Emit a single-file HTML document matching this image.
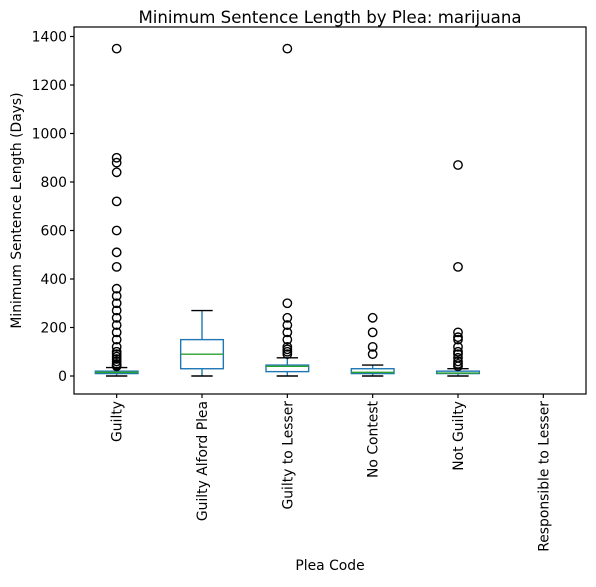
<!DOCTYPE html>
<html><head><meta charset="utf-8"><style>body{margin:0;background:#fff}svg text{font-family:"DejaVu Sans","Liberation Sans",sans-serif;fill:#000}</style></head>
<body>
<svg id="chart" width="596" height="582"></svg>
<script>
const categories=["Guilty","Guilty Alford Plea","Guilty to Lesser","No Contest","Not Guilty","Responsible to Lesser"];
const lowWhisker=[0,0,0,0,0,null];
const q1=[10,30,18,10,10,null];
const medians=[15,90,40,15,12,null];
const q3=[20,150,45,30,20,null];
const highWhisker=[35,270,75,45,30,null];
const outliers=[
 [1350,900,880,840,720,600,510,450,360,330,300,270,240,210,180,150,120,100,90,80,70,60,50,45,40],
 [],
 [1350,300,240,210,180,150,120,110,100,90],
 [240,180,120,90],
 [870,450,180,160,150,120,100,90,75,60,50,40],
 []
];
const yTicks=[0,200,400,600,800,1000,1200,1400];
const NS="http://www.w3.org/2000/svg",svg=document.getElementById("chart");
const L=74,R=586,T=27,B=394;
const x=i=>L+(i+0.5)*(R-L)/categories.length;
const y=v=>376-v*0.2425;
function mk(t,a,p){const e=document.createElementNS(NS,t);for(const k in a)e.setAttribute(k,a[k]);(p||svg).appendChild(e);return e;}
const hw=(R-L)/categories.length*0.25;
const SW=1.4;
categories.forEach((c,i)=>{
 const g=mk("g",{});
 
 
 const cx=x(i);
 if(q1[i]!==null){
  mk("line",{x1:cx,x2:cx,y1:y(q1[i]),y2:y(lowWhisker[i]),stroke:"#1f77b4","stroke-width":SW},g);
  mk("line",{x1:cx,x2:cx,y1:y(q3[i]),y2:y(highWhisker[i]),stroke:"#1f77b4","stroke-width":SW},g);
  mk("line",{x1:cx-hw/2,x2:cx+hw/2,y1:y(lowWhisker[i]),y2:y(lowWhisker[i]),stroke:"#000","stroke-width":SW},g);
  mk("line",{x1:cx-hw/2,x2:cx+hw/2,y1:y(highWhisker[i]),y2:y(highWhisker[i]),stroke:"#000","stroke-width":SW},g);
  mk("rect",{x:cx-hw,y:y(q3[i]),width:2*hw,height:Math.max(1,y(q1[i])-y(q3[i])),fill:"none",stroke:"#1f77b4","stroke-width":SW},g);
  mk("line",{x1:cx-hw,x2:cx+hw,y1:y(medians[i]),y2:y(medians[i]),stroke:"#2ca02c","stroke-width":SW},g);
 }
 outliers[i].forEach(v=>{const o=mk("circle",{cx:cx,cy:y(v),r:4.2,fill:"none",stroke:"#000","stroke-width":1.4},g);
  
  });
 mk("line",{x1:cx,x2:cx,y1:B,y2:B+4,stroke:"#000","stroke-width":1.2});
 const t=mk("text",{x:0,y:0,"font-size":13.9,"text-anchor":"end",transform:`translate(${cx+5},${B+7}) rotate(-90)`});
 t.textContent=c;
 
 
});
yTicks.forEach(v=>{
 mk("line",{x1:L-4,x2:L,y1:y(v),y2:y(v),stroke:"#000","stroke-width":1.2});
 const t=mk("text",{x:L-7,y:y(v)+5,"font-size":13.9,"text-anchor":"end"});t.textContent=v;
 
 
});
const f=mk("rect",{x:L,y:T,width:R-L,height:B-T,fill:"none",stroke:"#000","stroke-width":1.2});


const ti=mk("text",{x:(L+R)/2,y:23,"font-size":16.6,"text-anchor":"middle"});ti.textContent="Minimum Sentence Length by Plea: marijuana";


const xl=mk("text",{x:(L+R)/2,y:570,"font-size":13.9,"text-anchor":"middle"});xl.textContent="Plea Code";


const yl=mk("text",{x:0,y:0,"font-size":13.9,"text-anchor":"middle",transform:`translate(21,${(T+B)/2}) rotate(-90)`});yl.textContent="Minimum Sentence Length (Days)";


</script>
</body></html>
